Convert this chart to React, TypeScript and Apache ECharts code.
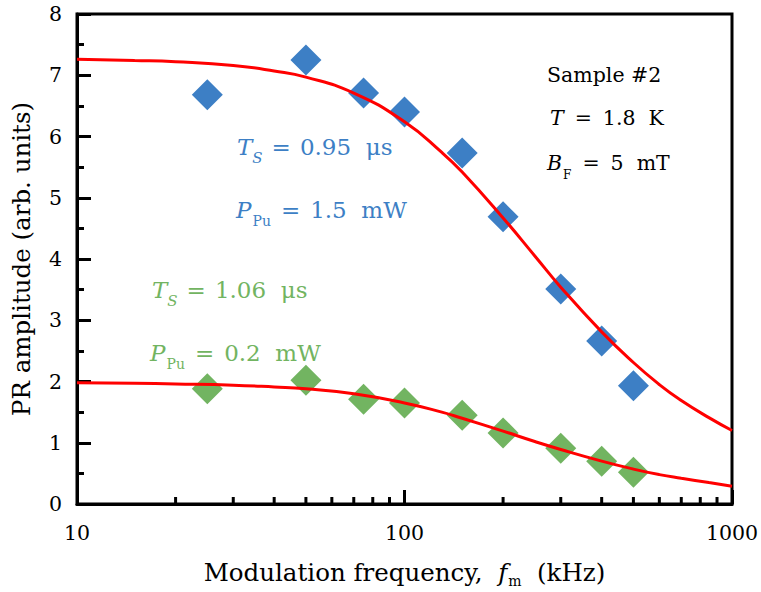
import React, { useEffect, useRef } from "react";
import * as echarts from "echarts";

// Measured PR amplitude vs modulation frequency (kHz)
const measFreq = [25, 50, 75, 100, 150, 200, 300, 400, 500];
const highPowerAmp = [6.68, 7.25, 6.71, 6.4, 5.73, 4.69, 3.51, 2.66, 1.93];
const lowPowerAmp = [1.88, 2.02, 1.71, 1.65, 1.45, 1.16, 0.91, 0.7, 0.52];

// Fitted curves sampled along the frequency range
const fitFreq = [10, 15, 20, 30, 40, 50, 70, 100, 130, 150, 200, 250, 300, 400, 500, 600, 700, 850, 1000];
const highPowerFit = [7.26, 7.24, 7.22, 7.16, 7.07, 6.97, 6.71, 6.24, 5.74, 5.42, 4.67, 4.05, 3.54, 2.81, 2.31, 1.95, 1.69, 1.41, 1.2];
const lowPowerFit = [1.98, 1.97, 1.96, 1.94, 1.91, 1.88, 1.8, 1.65, 1.5, 1.4, 1.19, 1.02, 0.89, 0.7, 0.57, 0.48, 0.42, 0.35, 0.29];

// Minor ticks of the log frequency axis
const minorFreq = [20, 30, 40, 50, 60, 70, 80, 90, 200, 300, 400, 500, 600, 700, 800, 900];

const BLUE = "#3d7fc5";
const GREEN = "#72b461";
const FONT = "DejaVu Serif";
const TICK_FS = 20.5;
const TITLE_FS = 24.5;

// Rich-text styles: n = upright, i = italic, s = upright subscript,
// si = italic subscript, eq = spaced equals sign
const rich = (color: string, fs: number, subFs: number, lh = 36, eqPad = 9) => ({
  n: { fontFamily: FONT, fontSize: fs, color, lineHeight: lh, verticalAlign: "middle" as const },
  i: { fontFamily: FONT, fontSize: fs, color, fontStyle: "italic" as const, lineHeight: lh, verticalAlign: "middle" as const },
  s: { fontFamily: FONT, fontSize: subFs, color, lineHeight: lh, verticalAlign: "bottom" as const, padding: [0, 0, 0, 1] },
  si: { fontFamily: FONT, fontSize: subFs, color, fontStyle: "italic" as const, lineHeight: lh, verticalAlign: "bottom" as const },
  eq: { fontFamily: FONT, fontSize: fs, color, lineHeight: lh, verticalAlign: "middle" as const, padding: [0, eqPad, 0, eqPad] },
});

export default function App() {
  const ref = useRef<HTMLDivElement>(null);
  useEffect(() => {
    if (!ref.current) return;
    const chart = echarts.init(ref.current, null, { renderer: "svg" });
    const label = (text: string, x: number, y: number, color: string, fs: number, subFs: number, eqPad = 9) => ({
      type: "text",
      x,
      y,
      style: {
        text,
        rich: rich(color, fs, subFs, 36, eqPad),
        align: "left",
        verticalAlign: "middle",
        fill: color,
        fontFamily: FONT,
        fontSize: fs,
      },
    });
    chart.setOption({
      animation: false,
      textStyle: { fontFamily: FONT, fontSize: TICK_FS },
      grid: {
        left: 77,
        top: 14,
        right: 29,
        bottom: 88,
        outerBoundsMode: "none",
        containLabel: false,
        show: true,
        borderColor: "#000",
        borderWidth: 3,
        backgroundColor: "transparent",
      },
      xAxis: {
        type: "log",
        logBase: 10,
        min: 10,
        max: 1000,
        axisLine: { show: true, lineStyle: { color: "#000", width: 3 } },
        axisTick: { show: true, inside: true, length: 14, lineStyle: { width: 3, color: "#000" } },
        splitLine: { show: false },
        axisLabel: {
          fontFamily: FONT,
          fontSize: TICK_FS,
          color: "#000",
          margin: 18,
          formatter: (v: number) => String(Math.round(v)),
        },
        name: "{n|Modulation frequency,  }{i|f}{s|m}{n|  (kHz)}",
        nameLocation: "middle",
        nameGap: 52,
        nameTextStyle: { fontFamily: FONT, fontSize: TITLE_FS, color: "#000", rich: rich("#000", TITLE_FS, 14, 32) },
      },
      yAxis: {
        type: "value",
        min: 0,
        max: 8,
        interval: 1,
        axisLine: { show: true, lineStyle: { color: "#000", width: 3 } },
        axisTick: { show: true, inside: true, length: 14, lineStyle: { width: 3, color: "#000" } },
        minorTick: { show: true, splitNumber: 2, length: 7, lineStyle: { width: 3, color: "#000" } },
        splitLine: { show: false },
        axisLabel: { fontFamily: FONT, fontSize: TICK_FS, color: "#000", margin: 15 },
        name: "PR amplitude (arb. units)",
        nameLocation: "middle",
        nameRotate: 90,
        nameGap: 43,
        nameTextStyle: { fontFamily: FONT, fontSize: TITLE_FS, color: "#000" },
      },
      series: [
        {
          type: "custom",
          data: minorFreq.map((f) => [f, 0]),
          z: 5,
          silent: true,
          renderItem: (_p: any, api: any) => {
            const pt = api.coord([api.value(0), 0]);
            return {
              type: "line",
              shape: { x1: pt[0], y1: pt[1], x2: pt[0], y2: pt[1] - 7 },
              style: { stroke: "#000", lineWidth: 3 },
            };
          },
        },
        {
          type: "scatter",
          data: measFreq.map((f, i) => [f, highPowerAmp[i]]),
          symbol: "diamond",
          symbolSize: [31, 31],
          itemStyle: { color: BLUE, opacity: 1 },
          z: 2,
        },
        {
          type: "scatter",
          data: measFreq.map((f, i) => [f, lowPowerAmp[i]]),
          symbol: "diamond",
          symbolSize: [31, 31],
          itemStyle: { color: GREEN, opacity: 1 },
          z: 2,
        },
        {
          type: "line",
          data: fitFreq.map((f, i) => [f, highPowerFit[i]]),
          smooth: true,
          showSymbol: false,
          lineStyle: { color: "#ff0000", width: 3 },
          z: 3,
        },
        {
          type: "line",
          data: fitFreq.map((f, i) => [f, lowPowerFit[i]]),
          smooth: true,
          showSymbol: false,
          lineStyle: { color: "#ff0000", width: 3 },
          z: 3,
        },
      ],
      graphic: [
        label("{n|Sample #2}", 547, 75, "#000", 20.5, 12),
        label("{i|T}{eq|=}{n|1.8  K}", 550, 118, "#000", 20.5, 12, 11),
        label("{i|B}{s|F}{eq|=}{n|5  mT}", 547, 163, "#000", 20.5, 12, 11),
        label("{i|T}{si|S}{eq|=}{n|0.95  μs}", 237, 147, BLUE, 23, 15),
        label("{i|P}{s|Pu}{eq|=}{n|1.5  mW}", 236, 210, BLUE, 23, 14, 10),
        label("{i|T}{si|S}{eq|=}{n|1.06  μs}", 152, 290, GREEN, 23, 15),
        label("{i|P}{s|Pu}{eq|=}{n|0.2  mW}", 150, 353, GREEN, 23, 14, 10),
      ],
    });
    return () => chart.dispose();
  }, []);
  return (
    <div
      ref={ref}
      style={{ position: "absolute", left: 0, top: 0, width: 761, height: 592 }}
    />
  );
}
